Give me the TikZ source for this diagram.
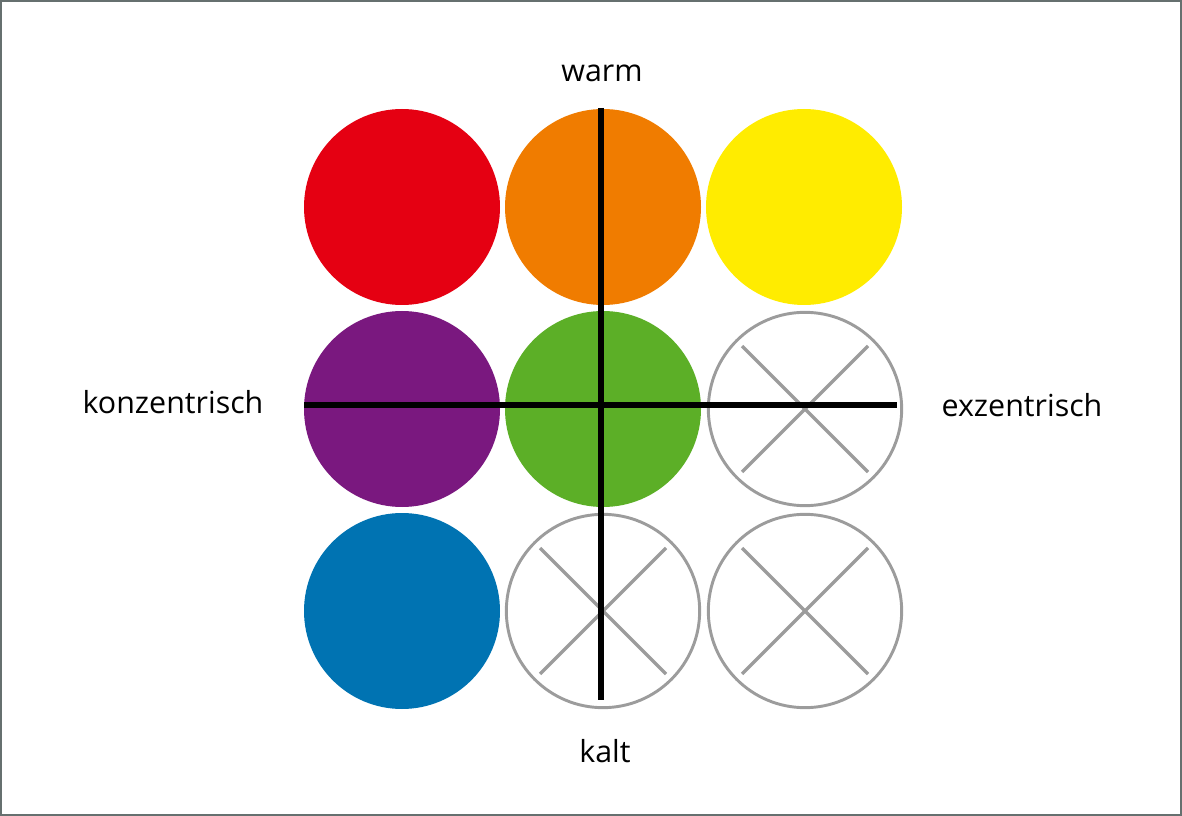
\documentclass[tikz,border=0pt]{standalone}
\usepackage{fontspec}
\usepackage{xcolor}
\setmainfont{Open Sans}
\definecolor{colred}{HTML}{E50012}
\definecolor{colorange}{HTML}{F07C00}
\definecolor{colyellow}{HTML}{FFEC00}
\definecolor{colpurple}{HTML}{7A187F}
\definecolor{colgreen}{HTML}{5CAF27}
\definecolor{colblue}{HTML}{0073B2}
\definecolor{colframe}{HTML}{66706F}
\definecolor{colgray}{HTML}{9C9C9C}
\begin{document}
\begin{tikzpicture}[x=0.75pt, y=-0.75pt,
  dot/.style={circle, inner sep=0pt, minimum size=147pt, fill=#1},
  empty/.style={circle, inner sep=0pt, minimum size=145pt, draw=colgray, line width=2.2pt,
    path picture={
      \draw[colgray, line width=2.6pt]
        ([shift={(-63,-63)}]path picture bounding box.center) -- ([shift={(63,63)}]path picture bounding box.center)
        ([shift={(-63,63)}]path picture bounding box.center) -- ([shift={(63,-63)}]path picture bounding box.center);}},
  axis/.style={line width=3.8pt, black},
  label/.style={font=\fontsize{22.8}{27}\selectfont, anchor=base, inner sep=0pt}]
  \draw[colframe, line width=1.5pt] (1,1) rectangle (1181,815);
  \useasboundingbox (0,0) rectangle (1182,816);
  % circles
  \node[dot=colred] (red) at (402,207) {};
  \node[dot=colorange] (orange) at (603,207) {};
  \node[dot=colyellow] (yellow) at (804,207) {};
  \node[dot=colpurple] (purple) at (402,409) {};
  \node[dot=colgreen] (green) at (603,409) {};
  \node[empty] (e1) at (805,409) {};
  \node[dot=colblue] (blue) at (402,611) {};
  \node[empty] (e2) at (603,611) {};
  \node[empty] (e3) at (805,611) {};
  % axes
  \coordinate (top) at (601,108);
  \coordinate (bottom) at (601,700);
  \coordinate (left) at (304,405);
  \coordinate (right) at (897,405);
  \draw[axis] (top) -- (bottom);
  \draw[axis] (left) -- (right);
  % labels
  \node[label] (warm) at (602,82) {warm};
  \node[label] (kalt) at (605,762) {kalt};
  \node[label] (konz) at (173,414) {konzentrisch};
  \node[label] (exz) at (1022,417) {exzentrisch};
\end{tikzpicture}
\end{document}
